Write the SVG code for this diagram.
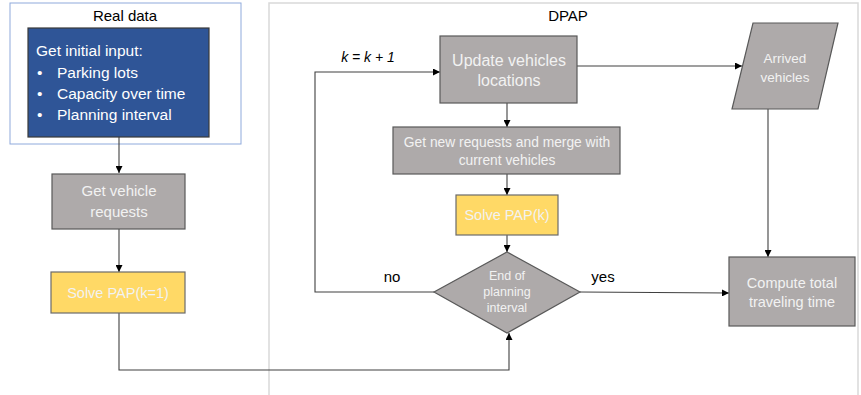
<svg xmlns="http://www.w3.org/2000/svg" width="861" height="395" viewBox="0 0 861 395">
  <style>
    text { font-family: "Liberation Sans", "Open Sans", sans-serif; }
    .frame-real { fill: #ffffff; stroke: #8faadc; stroke-width: 1; }
    .frame-dpap { fill: #ffffff; stroke: #d9d9d9; stroke-width: 1.5; }
    .title { font-size: 15px; fill: #000000; text-anchor: middle; }
    .gray { fill: #aeaaaa; stroke: #595959; stroke-width: 1.2; }
    .yellow { fill: #ffd966; stroke: #6b6b6b; stroke-width: 1.2; }
    .blue { fill: #2f5597; stroke: #3a3a3a; stroke-width: 1.2; }
    .lbl { fill: #f2f2f2; text-anchor: middle; }
    .wlbl { fill: #ffffff; font-size: 15.5px; }
    .edge { fill: none; stroke: #404040; stroke-width: 1.1; }
    .note { font-size: 15px; fill: #000000; text-anchor: middle; }
  </style>
  <defs>
    <marker id="arrow" viewBox="0 0 10 10" refX="10" refY="5" markerWidth="7" markerHeight="7" orient="auto" markerUnits="userSpaceOnUse">
      <path d="M0,0 L10,5 L0,10 z" fill="#000000"/>
    </marker>
  </defs>

  <!-- Section frames -->
  <rect class="frame-real" x="10" y="3" width="231" height="141"/>
  <text class="title" x="125" y="21">Real data</text>
  <rect class="frame-dpap" x="269" y="3" width="589" height="400"/>
  <text class="title" x="568" y="21">DPAP</text>

  <!-- Connectors -->
  <g id="connectors">
    <path class="edge" d="M119,137 V173" marker-end="url(#arrow)"/>
    <path class="edge" d="M119,229 V272" marker-end="url(#arrow)"/>
    <path class="edge" d="M119,313 V370 H509 V333" marker-end="url(#arrow)"/>
    <path class="edge" d="M507,103 V127" marker-end="url(#arrow)"/>
    <path class="edge" d="M507,174 V195" marker-end="url(#arrow)"/>
    <path class="edge" d="M507,235 V252" marker-end="url(#arrow)"/>
    <path class="edge" d="M434,292 H315 V72 H440" marker-end="url(#arrow)"/>
    <path class="edge" d="M577,66 H742" marker-end="url(#arrow)"/>
    <path class="edge" d="M768,109 V257" marker-end="url(#arrow)"/>
    <path class="edge" d="M580,292 L729,293" marker-end="url(#arrow)"/>
    <text x="368" y="62" font-size="14" font-style="italic" text-anchor="middle" fill="#000000">k = k + 1</text>
    <text class="note" x="392" y="282">no</text>
    <text class="note" x="603" y="282">yes</text>
  </g>

  <!-- Initial input -->
  <g id="initial-input">
    <rect class="blue" x="28" y="28" width="181" height="109"/>
    <text class="wlbl" x="36" y="56">Get initial input:</text>
    <text class="wlbl" x="37" y="78">•</text>
    <text class="wlbl" x="57" y="78">Parking lots</text>
    <text class="wlbl" x="37" y="99">•</text>
    <text class="wlbl" x="57" y="99">Capacity over time</text>
    <text class="wlbl" x="37" y="120">•</text>
    <text class="wlbl" x="57" y="120">Planning interval</text>
  </g>

  <!-- Get vehicle requests -->
  <g id="get-requests">
    <rect class="gray" x="52" y="174" width="133" height="55"/>
    <text class="lbl" x="119" y="196" font-size="15">Get vehicle</text>
    <text class="lbl" x="119" y="217" font-size="15">requests</text>
  </g>

  <!-- Solve PAP(k=1) -->
  <g id="solve-initial">
    <rect class="yellow" x="51" y="272" width="134" height="41"/>
    <text class="lbl" x="118" y="298" font-size="14.5" fill="#ffffff">Solve PAP(k=1)</text>
  </g>

  <!-- Update vehicles locations -->
  <g id="update-locations">
    <rect class="gray" x="440" y="36" width="137" height="67"/>
    <text class="lbl" x="509" y="66" font-size="16">Update vehicles</text>
    <text class="lbl" x="509" y="86" font-size="16">locations</text>
  </g>

  <!-- Get new requests and merge -->
  <g id="merge-requests">
    <rect class="gray" x="393" y="127" width="227" height="47"/>
    <text class="lbl" x="507" y="147" font-size="13.8">Get new requests and merge with</text>
    <text class="lbl" x="507" y="165" font-size="13.8">current vehicles</text>
  </g>

  <!-- Solve PAP(k) -->
  <g id="solve-k">
    <rect class="yellow" x="456" y="195" width="102" height="40"/>
    <text class="lbl" x="507" y="220" font-size="14.5" fill="#ffffff">Solve PAP(k)</text>
  </g>

  <!-- End of planning interval decision -->
  <g id="end-check">
    <polygon class="gray" points="507,252 580,292 507,333 434,292"/>
    <text class="lbl" x="507" y="280" font-size="12.5">End of</text>
    <text class="lbl" x="507" y="296" font-size="12.5">planning</text>
    <text class="lbl" x="507" y="312" font-size="12.5">interval</text>
  </g>

  <!-- Arrived vehicles -->
  <g id="arrived">
    <polygon class="gray" points="753,23 838,23 818,109 732,109"/>
    <text class="lbl" x="785" y="63" font-size="13.5">Arrived</text>
    <text class="lbl" x="785" y="82" font-size="13.5">vehicles</text>
  </g>

  <!-- Compute total traveling time -->
  <g id="compute-total">
    <rect class="gray" x="729" y="257" width="126" height="69"/>
    <text class="lbl" x="792" y="288" font-size="14.5">Compute total</text>
    <text class="lbl" x="792" y="307" font-size="14.5">traveling time</text>
  </g>
</svg>
